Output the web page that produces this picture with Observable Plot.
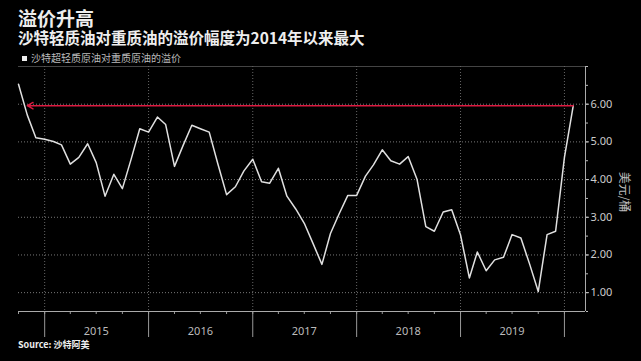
<!DOCTYPE html>
<html><head><meta charset="utf-8">
<script src="https://cdn.jsdelivr.net/npm/d3@7"></script>
<script src="https://cdn.jsdelivr.net/npm/@observablehq/plot@0.6"></script>
<style>
html,body{margin:0;padding:0;background:#000;}
#wrap{position:relative;width:641px;height:361px;overflow:hidden;background:#000;font-family:"Noto Sans CJK SC","Noto Sans",sans-serif;}
#chart{position:absolute;left:0;top:0;}
.t{position:absolute;left:18px;white-space:nowrap;z-index:2;}
</style></head><body>
<div id="wrap">
<div id="chart"></div>
<div class="t" style="top:8px;font-size:19px;font-weight:bold;color:#eee;line-height:20px">溢价升高</div>
<div class="t" style="top:29px;font-size:15.5px;font-weight:bold;color:#eee;line-height:16px">沙特轻质油对重质油的溢价幅度为2014年以来最大</div>
<div class="t" style="left:22px;top:51px;font-size:10px;color:#bbb;line-height:13px"><span style="display:inline-block;width:5px;height:5px;background:#eee;margin-right:4px;vertical-align:1px"></span>沙特超轻质原油对重质原油的溢价</div>
<div class="t" style="top:339px;font-size:9px;font-weight:bold;color:#eee;line-height:12px">Source: 沙特阿美</div>
</div>
<script>
const months = [
 "2014-10","2014-11","2014-12",
 "2015-01","2015-02","2015-03","2015-04","2015-05","2015-06","2015-07","2015-08","2015-09","2015-10","2015-11","2015-12",
 "2016-01","2016-02","2016-03","2016-04","2016-05","2016-06","2016-07","2016-08","2016-09","2016-10","2016-11","2016-12",
 "2017-01","2017-02","2017-03","2017-04","2017-05","2017-06","2017-07","2017-08","2017-09","2017-10","2017-11","2017-12",
 "2018-01","2018-02","2018-03","2018-04","2018-05","2018-06","2018-07","2018-08","2018-09","2018-10","2018-11","2018-12",
 "2019-01","2019-02","2019-03","2019-04","2019-05","2019-06","2019-07","2019-08","2019-09","2019-10","2019-11","2019-12",
 "2020-01","2020-02"
];
const premium = [
 6.53,5.71,5.11,
 5.07,5.01,4.92,4.41,4.59,4.95,4.45,3.56,4.14,3.76,4.55,5.35,
 5.26,5.66,5.46,4.35,4.90,5.44,5.35,5.26,4.40,3.60,3.81,4.23,
 4.54,3.94,3.90,4.30,3.56,3.22,2.84,2.30,1.75,2.57,3.10,3.58,
 3.58,4.09,4.39,4.79,4.50,4.41,4.61,4.01,2.75,2.63,3.14,3.20,
 2.53,1.39,2.08,1.58,1.87,1.94,2.54,2.45,1.75,1.03,2.54,2.63,
 4.59,5.96
];
const yearLabels = ["2015","2016","2017","2018","2019"];
const yearBoundaries = ["2015","2016","2017","2018","2019","2020"];
const yTicks = [1,2,3,4,5,6];
const xDomain = ["2014-10-01","2020-03-15"];
const yDomain = [0.5, 7];
const arrowFrom = "2020-02", arrowTo = "2014-11", arrowLevel = 5.96;

const parse = s => new Date(s.length === 4 ? s + "-01-01" : s.length === 7 ? s + "-01" : s);
const data = months.map((m, i) => ({date: parse(m), value: premium[i]}));
const xd = xDomain.map(parse);
const yearDates = yearBoundaries.map(parse);
const midYears = yearLabels.map(y => new Date(y + "-07-01"));
const quarterDates = d3.utcMonths(xd[0], xd[1], 3).filter(d => d.getUTCMonth() % 3 === 0);
const minorY = d3.range(yDomain[0], yDomain[1] + 0.01, 0.5);

const chart = Plot.plot({
  width: 641, height: 361,
  marginTop: 66, marginBottom: 50, marginLeft: 18, marginRight: 56,
  style: {background: "#000", color: "#bbb", fontFamily: "'Noto Sans', 'Noto Sans CJK SC', sans-serif", fontSize: "11px"},
  x: {type: "utc", domain: xd},
  y: {domain: yDomain},
  marks: [
    Plot.gridY(yTicks, {stroke: "#777", strokeOpacity: 1, strokeDasharray: "1,2"}),
    Plot.gridY([yDomain[1]], {stroke: "#444", strokeOpacity: 1}),
    Plot.gridX(yearDates, {stroke: "#666", strokeOpacity: 1, strokeDasharray: "1,2"}),
    Plot.axisX(quarterDates, {tickSize: 3, tickFormat: () => "", stroke: "#999", label: null}),
    Plot.axisX(yearDates, {tickSize: 26, tickFormat: () => "", stroke: "#999", label: null}),
    Plot.axisX(midYears, {tickSize: 0, tickPadding: 16, tickFormat: d => d3.utcFormat("%Y")(d), fill: "#bbb", fontSize: 11, label: null}),
    Plot.axisY(minorY, {anchor: "right", tickSize: 2, tickFormat: () => "", stroke: "#bbb", label: null}),
    Plot.axisY(yTicks, {anchor: "right", tickSize: 3, tickPadding: 2, tickFormat: d3.format(".2f"), fill: "#ccc", stroke: "#bbb", fontSize: 11, label: null}),
    Plot.ruleY([yDomain[0]], {stroke: "#aaa"}),
    Plot.ruleX([xd[1]], {stroke: "#aaa"}),
    Plot.text(["美元/桶"], {frameAnchor: "right", textAnchor: "middle", dx: 38, dy: 3, rotate: 90, fill: "#bbb", fontSize: 12, fontFamily: "Noto Sans CJK SC"}),
    Plot.lineY(data, {x: "date", y: "value", stroke: "#e0e0e0", strokeWidth: 1.5}),
    Plot.arrow([{x1: parse(arrowFrom), x2: parse(arrowTo), y: arrowLevel}], {x1: "x1", x2: "x2", y1: "y", y2: "y", stroke: "#dc1a40", strokeWidth: 1.4, headLength: 7})
  ]
});
document.getElementById("chart").appendChild(chart);
</script>
</body></html>
